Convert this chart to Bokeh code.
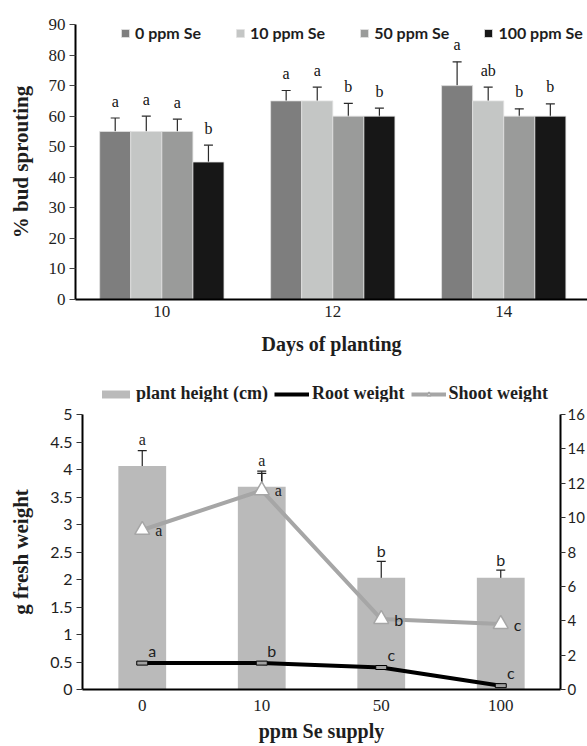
from bokeh.plotting import figure
from bokeh.models import (ColumnDataSource, Range1d, FactorRange, LinearAxis, Whisker, TeeHead,
                          Legend, LegendItem, FixedTicker, NumeralTickFormatter)
from bokeh.layouts import column
from bokeh.embed import file_html
from bokeh.resources import INLINE
from bokeh.core.properties import value

SERIF = "Liberation Serif"
SANS = "Lato"
INK = "#1e1e1e"

# ---------------- data: top chart (% bud sprouting) ----------------
days = [10, 12, 14]
dose_labels = ["0 ppm Se", "10 ppm Se", "50 ppm Se", "100 ppm Se"]
sprout_0 = [55, 65, 70]
sprout_10 = [55, 65, 65]
sprout_50 = [55, 60, 60]
sprout_100 = [45, 60, 60]
sprout_err_0 = [4.4, 3.4, 7.8]
sprout_err_10 = [5.0, 4.5, 4.5]
sprout_err_50 = [4.0, 4.2, 2.4]
sprout_err_100 = [5.5, 2.6, 4.0]
letters_0 = ["a", "a", "a"]
letters_10 = ["a", "a", "ab"]
letters_50 = ["a", "b", "b"]
letters_100 = ["b", "b", "b"]
sprout_ticks = [0, 10, 20, 30, 40, 50, 60, 70, 80, 90]

# ---------------- data: bottom chart ----------------
se_supply = ["0", "10", "50", "100"]
plant_height = [13.0, 11.8, 6.5, 6.5]          # cm (right axis)
plant_height_err = [0.9, 0.9, 0.95, 0.45]
root_weight = [0.48, 0.48, 0.40, 0.07]          # g (left axis)
root_err = [0.07, 0.02, 0.02, 0.01]
shoot_weight = [2.90, 3.62, 1.28, 1.19]         # g (left axis)
shoot_err = [0.35, 0.31, 0.22, 0.03]
height_letters = ["a", "a", "b", "b"]
root_letters = ["a", "b", "c", "c"]
shoot_letters = ["a", "a", "b", "c"]
weight_ticks = [0, 0.5, 1, 1.5, 2, 2.5, 3, 3.5, 4, 4.5, 5]
height_ticks = [0, 2, 4, 6, 8, 10, 12, 14, 16]
series2_labels = ["plant height (cm)", "Root weight", "Shoot weight"]

# ---------------- styles ----------------
bar_colors = ["#7e7e7e", "#c4c6c5", "#9a9b9a", "#171717"]
height_color = "#bababa"
shoot_color = "#a6a6a6"
height_letter_fonts = [SERIF, SERIF, SANS, SANS]
shoot_letter_fonts = [SERIF, SERIF, SANS, SANS]
root_letter_fonts = [SANS, SANS, SANS, SANS]


def style_common(p):
    p.outline_line_color = None
    p.background_fill_color = "white"
    p.border_fill_color = "white"
    p.xgrid.visible = False
    p.ygrid.visible = False


# ================= top figure =================
p1 = figure(width=587, height=360, x_range=Range1d(8.99, 14.98), y_range=Range1d(0, 90),
            output_backend="svg", toolbar_location=None, frame_align=False,
            min_border_left=75, min_border_right=0, min_border_top=24, min_border_bottom=61)
style_common(p1)

bar_w = 0.3636
series = [
    (sprout_0, sprout_err_0, letters_0),
    (sprout_10, sprout_err_10, letters_10),
    (sprout_50, sprout_err_50, letters_50),
    (sprout_100, sprout_err_100, letters_100),
]
legend_items = []
for i, ((vals, errs, letters), color, name) in enumerate(zip(series, bar_colors, dose_labels)):
    off = (i - 1.5) * bar_w
    src = ColumnDataSource(dict(
        x=[d + off for d in days], top=vals,
        upper=[v + e for v, e in zip(vals, errs)],
        lower=[v - e for v, e in zip(vals, errs)],
        letter=letters))
    r = p1.vbar(x="x", top="top", bottom=0, width=bar_w, source=src,
                fill_color=color, line_color="#e2e2e2", line_width=0.8)
    p1.add_layout(Whisker(source=src, base="x", upper="upper", lower="lower",
                          line_color="#2a2a2a", line_width=1.2,
                          upper_head=TeeHead(size=9, line_color="#2a2a2a", line_width=1.2),
                          lower_head=TeeHead(size=9, line_color="#2a2a2a", line_width=1.2)))
    p1.text(x="x", y="upper", text="letter", source=src, text_align="center",
            text_baseline="alphabetic", y_offset=-17, text_font=value(SERIF),
            text_font_size="16px", text_color="#111111")
    legend_items.append(LegendItem(label=name, renderers=[r]))

leg1 = Legend(items=legend_items, orientation="horizontal", location=(45, 257),
              glyph_width=10, glyph_height=10, label_standoff=5, spacing=34,
              padding=0, margin=0, border_line_color=None, background_fill_alpha=0,
              label_text_font=SANS, label_text_font_style="bold", label_text_font_size="16px",
              label_text_color=INK, label_height=10)
p1.add_layout(leg1, "center")

p1.xaxis.ticker = FixedTicker(ticks=days)
p1.xaxis.minor_tick_line_color = None
p1.xaxis.major_tick_in = 0
p1.xaxis.major_tick_out = 0
p1.xaxis.major_label_standoff = 6
p1.xaxis.axis_label = "Days of planting"
p1.xaxis.axis_label_standoff = 13
p1.yaxis.ticker = FixedTicker(ticks=sprout_ticks)
p1.yaxis.minor_tick_line_color = None
p1.yaxis.major_tick_in = 0
p1.yaxis.major_tick_out = 6
p1.yaxis.major_label_standoff = 4
p1.yaxis.axis_label = "% bud sprouting"
p1.yaxis.axis_label_standoff = 13
for ax in (p1.xaxis, p1.yaxis):
    ax.axis_line_width = 2
    ax.axis_line_color = "black"
    ax.major_label_text_font = SERIF
    ax.major_label_text_font_size = "17px"
    ax.major_label_text_color = INK
    ax.axis_label_text_font = SERIF
    ax.axis_label_text_font_style = "bold"
    ax.axis_label_text_font_size = "20px"
    ax.axis_label_text_color = INK
p1.yaxis.axis_label_text_font_size = "21px"
p1.yaxis.major_tick_line_color = "#444444"
p1.xaxis.major_tick_line_color = None

# ================= bottom figure =================
p2 = figure(width=587, height=344, x_range=FactorRange(*se_supply), y_range=Range1d(0, 5),
            output_backend="svg", toolbar_location=None, frame_align=False,
            min_border_left=82, min_border_right=0, min_border_top=12, min_border_bottom=57)
style_common(p2)
p2.extra_y_ranges = {"cm": Range1d(0, 16)}
right_axis = LinearAxis(y_range_name="cm", ticker=FixedTicker(ticks=height_ticks))
p2.add_layout(right_axis, "right")

src_h = ColumnDataSource(dict(
    x=se_supply, top=plant_height,
    upper=[v + e for v, e in zip(plant_height, plant_height_err)],
    lower=[v - e for v, e in zip(plant_height, plant_height_err)],
    letter=height_letters, font=height_letter_fonts))
src_r = ColumnDataSource(dict(
    x=se_supply, y=root_weight,
    upper=[v + e for v, e in zip(root_weight, root_err)],
    lower=[v - e for v, e in zip(root_weight, root_err)],
    letter=root_letters, font=root_letter_fonts))
src_s = ColumnDataSource(dict(
    x=se_supply, y=shoot_weight,
    upper=[v + e for v, e in zip(shoot_weight, shoot_err)],
    lower=[v - e for v, e in zip(shoot_weight, shoot_err)],
    letter=shoot_letters, font=shoot_letter_fonts))

p2.vbar(x="x", top="top", bottom=0, width=0.4, source=src_h, y_range_name="cm",
        fill_color=height_color, line_color=None)


def whisk(plot, src, yname=None, color="#222222"):
    kw = dict(source=src, base="x", upper="upper", lower="lower", line_color=color, line_width=1.2,
              upper_head=TeeHead(size=9, line_color=color, line_width=1.2),
              lower_head=TeeHead(size=9, line_color=color, line_width=1.2))
    if yname:
        kw["y_range_name"] = yname
    plot.add_layout(Whisker(**kw))


whisk(p2, src_h, "cm")
p2.line(x="x", y="y", source=src_s, line_color=shoot_color, line_width=4)
p2.line(x="x", y="y", source=src_r, line_color="black", line_width=4)
whisk(p2, src_s)
whisk(p2, src_r)
p2.scatter(x="x", y="y", source=src_s, marker="triangle", size=15,
           fill_color="white", line_color=shoot_color, line_width=1.5)
p2.rect(x="x", y="y", source=src_r, width=11, height=4, width_units="screen", height_units="screen",
        fill_color="#a0a0a0", line_color="black", line_width=1)

p2.text(x="x", y="upper", text="letter", source=src_h, y_range_name="cm", text_align="center",
        text_baseline="alphabetic", y_offset=-11, text_font="font", text_font_size="16px",
        text_color=INK)
p2.text(x="x", y="y", text="letter", source=src_s, text_align="left", text_baseline="middle",
        x_offset=13, text_font="font", text_font_size="16px", text_color=INK)
p2.text(x="x", y="y", text="letter", source=src_r, text_align="center", text_baseline="alphabetic",
        x_offset=10, y_offset=-13, text_font="font", text_font_size="16px", text_color=INK)

p2.xaxis.major_tick_in = 0
p2.xaxis.major_tick_out = 0
p2.xaxis.major_label_standoff = 10
p2.xaxis.major_label_text_font = SERIF
p2.xaxis.axis_label = "ppm Se supply"
p2.xaxis.axis_label_standoff = 6
p2.yaxis[0].ticker = FixedTicker(ticks=weight_ticks)
p2.yaxis[0].formatter = NumeralTickFormatter(format="0.[0]")
p2.yaxis[0].axis_label = "g fresh weight"
p2.yaxis[0].axis_label_standoff = 14
for ax in p2.axis:
    ax.axis_line_width = 2
    ax.axis_line_color = "black"
    ax.minor_tick_line_color = None
    ax.major_label_text_color = INK
    ax.major_label_text_font_size = "16px"
    ax.axis_label_text_font = SERIF
    ax.axis_label_text_font_style = "bold"
    ax.axis_label_text_font_size = "20px"
    ax.axis_label_text_color = INK
p2.yaxis[0].axis_label_text_font_size = "21px"
for ax in p2.yaxis:
    ax.major_tick_in = 0
    ax.major_tick_out = 6
    ax.major_tick_line_color = "#333333"
    ax.major_label_text_font = SANS
    ax.major_label_standoff = 4
right_axis.major_tick_out = 5
right_axis.major_label_standoff = 2
right_axis.major_label_text_font_size = "15px"
p2.xaxis.major_label_text_font_size = "17px"
p2.xaxis.major_tick_line_color = None

# ================= legend strip for the bottom chart =================
# Same series and sources as the chart; the renderers are hidden and the strip's
# y window lies below all data, so only their legend entries show.
lg = figure(width=587, height=42, x_range=FactorRange(*se_supply), y_range=Range1d(-2, -1),
            x_axis_type=None, y_axis_type=None, output_backend="svg", toolbar_location=None,
            frame_align=False, min_border=0)
style_common(lg)
k_h = lg.vbar(x="x", top="top", bottom=0, width=0.4, source=src_h,
              fill_color=height_color, line_color=None, visible=False)
k_r = lg.line(x="x", y="y", source=src_r, line_color="black", line_width=4, visible=False)
k_s = lg.line(x="x", y="y", source=src_s, line_color=shoot_color, line_width=4, visible=False)
k_t = lg.scatter(x="x", y="y", source=src_s, marker="triangle", size=12,
                 fill_color="white", line_color=shoot_color, line_width=1.5, visible=False)
leg2 = Legend(items=[LegendItem(label=series2_labels[0], renderers=[k_h]),
                     LegendItem(label=series2_labels[1], renderers=[k_r]),
                     LegendItem(label=series2_labels[2], renderers=[k_s, k_t])],
              orientation="horizontal", location=(98, -2),
              glyph_width=35, glyph_height=10, label_standoff=3, spacing=6,
              padding=0, margin=0, border_line_color=None, background_fill_alpha=0,
              inactive_fill_alpha=0,
              label_text_font=SERIF, label_text_font_style="bold", label_text_font_size="18px",
              label_text_color=INK, label_height=10)
lg.add_layout(leg2, "center")

layout = column(p1, lg, p2, spacing=0)
open("out.html", "w").write(file_html(layout, INLINE))
